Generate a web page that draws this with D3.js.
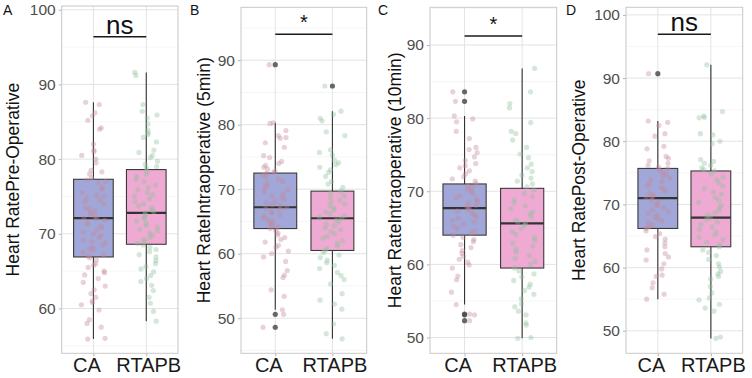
<!DOCTYPE html>
<html>
<head>
<meta charset="utf-8">
<script src="https://cdn.jsdelivr.net/npm/d3@7"></script>
<style>
  body { margin: 0; background: #fff; }
  svg { display: block; font-family: "Liberation Sans", Arial, sans-serif; }
</style>
</head>
<body>
<svg id="drawing_region" width="752" height="378"></svg>
<script>
// groups
const groups = ['CA', 'RTAPB'];

// panel titles / labels / significance
const panelLabels = ['A', 'B', 'C', 'D'];
const yTitles = ['Heart RatePre-Operative', 'Heart RateIntraoperative (5min)',
                 'Heart RateIntraoperative (10min)', 'Heart RatePost-Operative'];
const sigLabels = ['ns', '*', '*', 'ns'];
const yTicks = [[60, 70, 80, 90, 100], [50, 60, 70, 80, 90], [50, 60, 70, 80, 90], [50, 60, 70, 80, 90, 100]];

// box statistics: [lower whisker, q1, median, q3, upper whisker]
const boxA = [[55.9, 66.9, 72.1, 77.3, 87.6], [58.3, 68.6, 72.8, 78.6, 91.6]];
const boxB = [[51.3, 63.9, 67.2, 72.5, 80.3], [46.8, 60.5, 65.5, 69.7, 82.1]];
const boxC = [[54.5, 64.0, 67.7, 71.0, 80.3], [49.9, 59.5, 65.6, 70.4, 86.8]];
const boxD = [[55.0, 66.2, 71.0, 75.7, 83.2], [48.8, 63.3, 67.9, 75.3, 92.1]];

// outliers
const outA = [[], []];
const outB = [[89.3, 50.6, 48.6], [86.0]];
const outC = [[83.6, 82.3, 53.2, 53.1, 52.3], []];
const outD = [[90.7], []];

// individual observations (jittered points)
const ptsA_CA = [87.6, 87.3, 86.2, 85.8, 85.2, 84.2, 84.0, 82.0, 81.2, 81.0, 80.5, 80.0, 79.5, 78.5, 78.3, 78.0,
  77.5, 77.2, 77.0, 76.8, 76.2, 76.0, 75.5, 75.2, 75.0, 74.8, 74.5, 74.3, 74.0, 73.5, 73.3, 73.0, 72.8, 72.5,
  72.3, 72.1, 72.0, 71.8, 71.5, 71.3, 71.0, 70.8, 70.5, 70.2, 70.0, 69.8, 69.5, 69.2, 69.0, 68.8, 68.5, 68.2,
  68.0, 67.8, 67.5, 67.2, 67.0, 66.8, 66.5, 66.0, 65.8, 65.5, 65.0, 64.8, 64.5, 64.0, 63.5, 63.0, 62.5, 62.0,
  61.5, 61.0, 60.8, 60.5, 59.8, 58.5, 58.0, 57.5, 56.0, 55.9];
const ptsA_RT = [91.6, 91.2, 87.3, 86.4, 85.9, 85.5, 84.7, 83.9, 83.5, 83.3, 82.9, 82.3, 81.2, 80.9, 80.5, 80.2,
  79.7, 79.3, 79.0, 78.8, 78.4, 78.0, 77.7, 77.3, 77.0, 76.5, 76.2, 75.9, 75.5, 75.2, 75.0, 74.7, 74.3, 74.0,
  73.7, 73.5, 73.2, 73.0, 72.8, 72.5, 72.2, 72.0, 71.7, 71.4, 71.1, 70.9, 70.6, 70.4, 70.1, 69.8, 69.5, 69.2,
  69.0, 68.7, 68.5, 68.2, 67.9, 67.6, 67.2, 66.9, 66.4, 66.0, 65.6, 65.3, 64.9, 64.4, 64.0, 63.6, 63.1, 62.4,
  61.5, 60.7, 59.6, 58.3];
const ptsB_CA = [89.3, 80.3, 80.2, 79.1, 78.3, 78.0, 77.9, 77.2, 76.5, 75.2, 74.9, 74.3, 74.0, 73.7, 73.4, 73.1,
  72.8, 72.6, 72.4, 72.2, 71.9, 71.6, 71.2, 70.9, 70.5, 70.2, 69.9, 69.6, 69.3, 69.0, 68.7, 68.4, 68.1, 67.9,
  67.6, 67.4, 67.2, 67.0, 66.8, 66.5, 66.3, 66.0, 65.8, 65.5, 65.3, 65.0, 64.8, 64.6, 64.3, 64.1, 63.9, 63.6,
  63.2, 62.9, 62.5, 62.2, 61.8, 61.3, 61.0, 60.4, 60.0, 59.5, 58.8, 57.4, 56.7, 56.3, 54.4, 53.4, 51.3, 50.6, 48.6];
const ptsB_RT = [86.0, 82.1, 81.6, 81.0, 80.6, 78.9, 78.3, 76.1, 75.7, 75.3, 74.5, 74.1, 73.8, 73.4, 73.0, 72.6,
  72.0, 71.2, 70.8, 70.3, 69.7, 69.4, 69.0, 68.7, 68.3, 68.0, 67.7, 67.4, 67.1, 66.8, 66.5, 66.2, 65.9, 65.7,
  65.5, 65.2, 64.9, 64.6, 64.3, 64.0, 63.7, 63.4, 63.1, 62.7, 62.4, 62.0, 61.6, 61.2, 60.8, 60.5, 60.2, 59.8,
  59.4, 59.0, 58.6, 58.2, 57.7, 57.1, 56.6, 56.0, 55.3, 53.8, 52.8, 52.2, 51.4, 49.1, 47.6, 46.8];
const ptsC_CA = [83.6, 82.3, 80.3, 79.9, 79.5, 78.2, 77.2, 76.0, 75.7, 75.3, 74.7, 74.2, 73.8, 73.5, 73.2, 72.8,
  72.4, 72.0, 71.7, 71.4, 71.0, 70.7, 70.5, 70.2, 70.0, 69.7, 69.4, 69.1, 68.9, 68.6, 68.4, 68.1, 67.9, 67.7,
  67.5, 67.3, 67.0, 66.8, 66.5, 66.3, 66.0, 65.8, 65.5, 65.2, 64.9, 64.6, 64.3, 64.0, 63.7, 63.4, 63.1, 62.7,
  62.3, 61.9, 61.5, 61.1, 60.7, 60.3, 59.9, 59.5, 58.4, 57.9, 56.2, 54.5, 53.2, 53.1, 52.3];
const ptsC_RT = [86.8, 83.6, 82.0, 81.4, 79.4, 78.2, 77.9, 77.0, 76.0, 75.1, 74.6, 73.7, 73.2, 72.7, 72.2, 71.8,
  71.4, 71.0, 70.6, 70.2, 69.7, 69.3, 68.8, 68.4, 68.0, 67.6, 67.2, 66.9, 66.5, 66.1, 65.8, 65.6, 65.3, 64.9,
  64.5, 64.1, 63.7, 63.3, 62.9, 62.5, 62.1, 61.7, 61.2, 60.8, 60.4, 60.0, 59.5, 59.1, 58.7, 58.3, 57.8, 57.3,
  56.9, 56.4, 55.9, 55.3, 54.6, 54.2, 53.6, 53.1, 52.0, 51.7, 50.0, 49.9];
const ptsD_CA = [90.7, 83.2, 83.0, 82.5, 81.2, 80.8, 79.2, 78.8, 77.6, 77.3, 76.9, 76.5, 76.2, 75.9, 75.7, 75.4,
  75.1, 74.8, 74.5, 74.2, 73.9, 73.6, 73.3, 73.0, 72.7, 72.4, 72.1, 71.8, 71.5, 71.2, 71.0, 70.7, 70.4, 70.1,
  69.8, 69.5, 69.2, 68.9, 68.6, 68.3, 68.0, 67.7, 67.4, 67.1, 66.8, 66.5, 66.2, 65.8, 65.4, 64.9, 64.5, 63.9,
  63.3, 62.8, 62.2, 61.7, 61.2, 60.6, 59.8, 58.8, 58.6, 57.6, 56.8, 55.8, 55.0];
const ptsD_RT = [92.1, 84.7, 84.0, 83.8, 83.7, 81.2, 81.0, 80.0, 79.6, 77.1, 76.8, 76.5, 76.2, 75.8, 75.5, 75.3,
  74.8, 74.3, 73.9, 73.4, 72.9, 72.5, 72.0, 71.6, 71.1, 70.7, 70.3, 69.9, 69.5, 69.1, 68.7, 68.3, 67.9, 67.6,
  67.2, 66.8, 66.4, 66.0, 65.6, 65.2, 64.8, 64.4, 64.0, 63.6, 63.3, 62.8, 62.4, 61.9, 61.3, 60.6, 60.1, 59.4,
  59.0, 58.6, 58.2, 57.0, 56.0, 55.2, 54.9, 54.2, 53.6, 53.1, 49.0, 48.8];

const boxes = [boxA, boxB, boxC, boxD];
const outliers = [outA, outB, outC, outD];
const points = [[ptsA_CA, ptsA_RT], [ptsB_CA, ptsB_RT], [ptsC_CA, ptsC_RT], [ptsD_CA, ptsD_RT]];

// layout (pixels) per panel
const layout = [
  { left: 61.7, right: 178.0, top: 6.0, bottom: 353.3, ymin: 54.0, ymax: 100.5, sigY: 36.7, titleX: 19, origin: 3 },
  { left: 241.0, right: 366.7, top: 7.3, bottom: 353.3, ymin: 44.56, ymax: 98.2, sigY: 34.3, titleX: 210, origin: 190 },
  { left: 430.0, right: 556.7, top: 7.3, bottom: 353.3, ymin: 47.84, ymax: 95.16, sigY: 36.0, titleX: 401, origin: 378 },
  { left: 626.0, right: 742.7, top: 7.3, bottom: 353.3, ymin: 46.44, ymax: 101.2, sigY: 34.3, titleX: 585, origin: 566 }
];

const boxFill = ['#a1a7d8', '#eeaad2'];
const pointFill = ['#c48a96', '#8fbf9c'];
const labelShift = [-7, 2];

// deterministic horizontal jitter in [-0.5, 0.5]
function jitter(k, seed) {
  const s = Math.sin(k * 12.9898 + seed * 78.233) * 43758.5453;
  return s - Math.floor(s) - 0.5;
}

const svg = d3.select('#drawing_region');

layout.forEach((L, p) => {
  const g = svg.append('g');

  const yscale = d3.scaleLinear().domain([L.ymin, L.ymax]).range([L.bottom, L.top]);
  const xscale = d3.scalePoint().domain(groups).range([L.left, L.right]).padding(0.6);
  const step = xscale.step();
  const boxW = 0.75 * step;

  // minor grid
  const minor = d3.range(Math.ceil(L.ymin / 5) * 5, L.ymax, 5).filter(v => v % 10 !== 0);
  g.selectAll('.minor').data(minor).join('line')
    .attr('x1', L.left).attr('x2', L.right)
    .attr('y1', d => yscale(d)).attr('y2', d => yscale(d))
    .attr('stroke', '#f0f0f0').attr('stroke-width', 0.6);

  // major grid
  g.selectAll('.major').data(yTicks[p]).join('line')
    .attr('x1', L.left).attr('x2', L.right)
    .attr('y1', d => yscale(d)).attr('y2', d => yscale(d))
    .attr('stroke', '#e3e3e3').attr('stroke-width', 1);

  g.selectAll('.vgrid').data(groups).join('line')
    .attr('x1', d => xscale(d)).attr('x2', d => xscale(d))
    .attr('y1', L.top).attr('y2', L.bottom)
    .attr('stroke', '#e3e3e3').attr('stroke-width', 1);

  // y axis
  const yaxis = d3.axisLeft(yscale).tickValues(yTicks[p]).tickSize(3).tickPadding(3);
  const ya = g.append('g').attr('transform', `translate(${L.left},0)`).call(yaxis);
  ya.select('.domain').remove();
  ya.selectAll('line').attr('stroke', '#b3b3b3');
  ya.selectAll('text').attr('fill', '#4d4d4d').style('font-size', '15.5px')
    .attr('font-family', '"Liberation Sans", Arial, sans-serif');

  // x axis
  const xaxis = d3.axisBottom(xscale).tickSize(3).tickPadding(4);
  const xa = g.append('g').attr('transform', `translate(0,${L.bottom})`).call(xaxis);
  xa.select('.domain').remove();
  xa.selectAll('line').attr('stroke', '#b3b3b3');
  xa.selectAll('text').attr('fill', '#1a1a1a').style('font-size', '20px')
    .attr('font-family', '"Liberation Sans", Arial, sans-serif')
    .attr('dx', (d, i) => labelShift[i]).attr('y', 5).attr('dy', '0.71em');

  // whiskers
  g.selectAll('.whisker').data(boxes[p]).join('line')
    .attr('x1', (d, i) => xscale(groups[i])).attr('x2', (d, i) => xscale(groups[i]))
    .attr('y1', d => yscale(d[0])).attr('y2', d => yscale(d[4]))
    .attr('stroke', '#333').attr('stroke-width', 1.1);

  // boxes
  g.selectAll('.box').data(boxes[p]).join('rect')
    .attr('x', (d, i) => xscale(groups[i]) - boxW / 2)
    .attr('width', boxW)
    .attr('y', d => yscale(d[3]))
    .attr('height', d => yscale(d[1]) - yscale(d[3]))
    .attr('fill', (d, i) => boxFill[i])
    .attr('stroke', '#3a3a3a').attr('stroke-width', 1.1);

  g.selectAll('.median').data(boxes[p]).join('line')
    .attr('x1', (d, i) => xscale(groups[i]) - boxW / 2)
    .attr('x2', (d, i) => xscale(groups[i]) + boxW / 2)
    .attr('y1', d => yscale(d[2])).attr('y2', d => yscale(d[2]))
    .attr('stroke', '#333').attr('stroke-width', 2.2);

  // outliers
  outliers[p].forEach((arr, i) => {
    g.selectAll('.out' + i).data(arr).join('circle')
      .attr('cx', xscale(groups[i]))
      .attr('cy', d => yscale(d))
      .attr('r', 2.6)
      .attr('fill', '#4d4d4d').attr('fill-opacity', 0.85);
  });

  // jittered points
  points[p].forEach((arr, i) => {
    g.selectAll('.pt' + i).data(arr).join('circle')
      .attr('cx', (d, k) => xscale(groups[i]) + jitter(k, p * 2 + i + 1) * 0.46 * step)
      .attr('cy', d => yscale(d))
      .attr('r', 2.6)
      .attr('fill', pointFill[i]).attr('fill-opacity', 0.38);
  });

  // panel border
  g.append('rect')
    .attr('x', L.left).attr('y', L.top)
    .attr('width', L.right - L.left).attr('height', L.bottom - L.top)
    .attr('fill', 'none').attr('stroke', '#c8c8c8').attr('stroke-width', 1);

  // significance bar
  g.append('line')
    .attr('x1', xscale(groups[0])).attr('x2', xscale(groups[1]))
    .attr('y1', L.sigY).attr('y2', L.sigY)
    .attr('stroke', '#1a1a1a').attr('stroke-width', 1.5);

  const isStar = sigLabels[p] === '*';
  g.append('text')
    .attr('x', (xscale(groups[0]) + xscale(groups[1])) / 2)
    .attr('y', isStar ? L.sigY - 5 : L.sigY - 3)
    .attr('text-anchor', 'middle')
    .style('font-size', isStar ? '20px' : '26px')
    .attr('fill', '#111')
    .text(sigLabels[p]);

  // y title
  g.append('text')
    .attr('transform', `translate(${L.titleX},${(L.top + L.bottom) / 2}) rotate(-90)`)
    .attr('text-anchor', 'middle')
    .style('font-size', '17.5px')
    .attr('fill', '#111')
    .text(yTitles[p]);

  // panel letter
  g.append('text')
    .attr('x', L.origin).attr('y', 15)
    .style('font-size', '14px')
    .attr('fill', '#111')
    .text(panelLabels[p]);
});
</script>
</body>
</html>
